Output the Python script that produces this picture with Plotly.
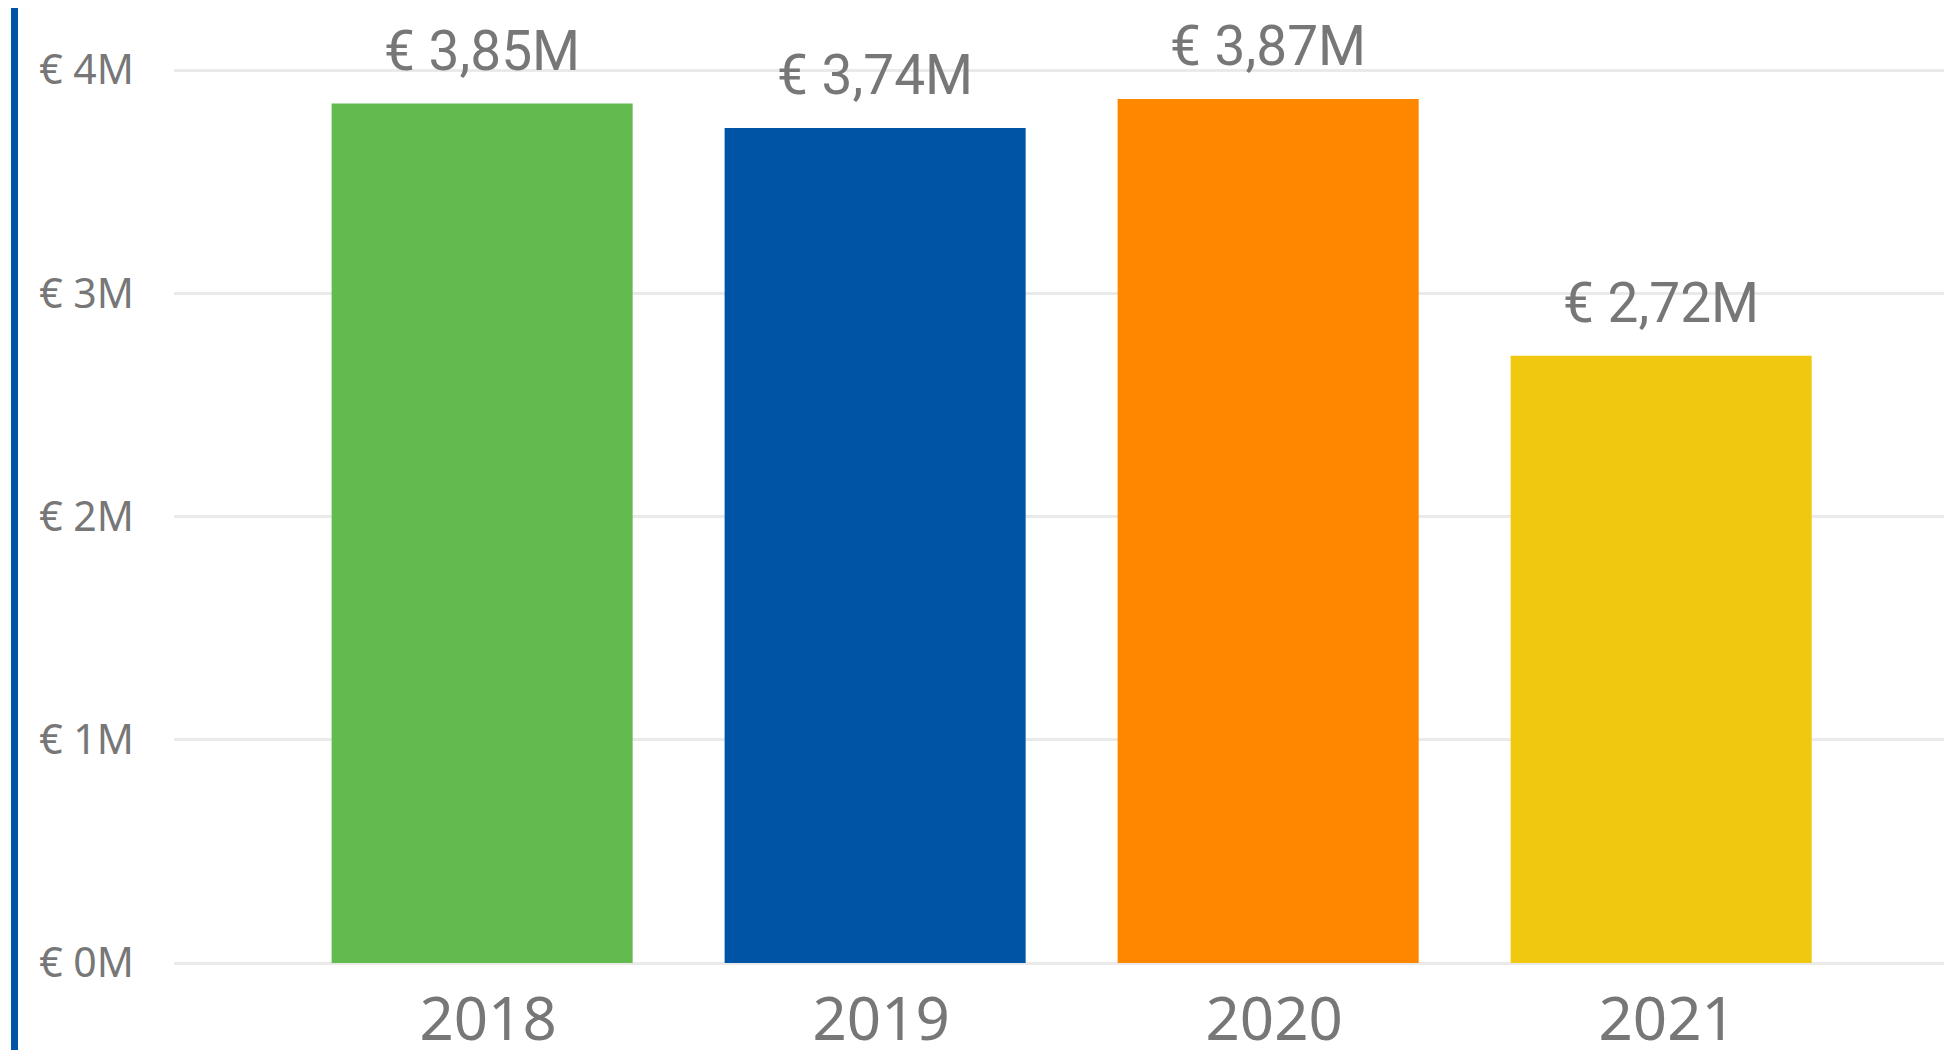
import plotly.graph_objects as go

years = ["2018", "2019", "2020", "2021"]
revenue_m = [3.85, 3.74, 3.87, 2.72]
bar_colours = ["#63BB4F", "#0054A5", "#FF8700", "#F0C810"]
y_ticks = [0, 1, 2, 3, 4]

GREY = "#777777"

fig = go.Figure(go.Bar(
  x=years,
  y=revenue_m,
  marker=dict(color=bar_colours, line=dict(width=0)),
  hoverinfo="skip",
))

# value labels above the bars, european decimal comma
for i, value in enumerate(revenue_m):
  fig.add_annotation(
    x=i, y=value,
    text=f"€ {value:.2f}M".replace(".", ","),
    showarrow=False,
    yanchor="bottom",
    yshift=19,
    font=dict(family="Roboto", size=55, color=GREY),
  )

# blue border line at the far left of the page
fig.add_shape(
  type="line", xref="paper", yref="paper",
  x0=-0.0897, x1=-0.0897, y0=-0.1, y1=1.0,
  line=dict(color="#0054A5", width=7),
)

# the page body has an 8px margin, so the figure is 8px smaller
fig.update_layout(
  width=1944,
  height=1042,
  margin=dict(l=166, r=0, t=0, b=87),
  plot_bgcolor="white",
  paper_bgcolor="white",
  bargap=0.234,
  showlegend=False,
  xaxis=dict(
    type="category",
    automargin=False,
    range=[-0.784, 3.74],
    showgrid=False,
    showline=False,
    ticks="",
    ticklabelstandoff=16,
    ticklabelshift=6,
    tickfont=dict(family="Noto Sans", size=60, color=GREY),
  ),
  yaxis=dict(
    automargin=False,
    range=[0, 4.278],
    tickvals=y_ticks,
    ticktext=[f"€ {v}M" for v in y_ticks],
    showgrid=True,
    gridcolor="#EAEAEA",
    gridwidth=3,
    zeroline=True,
    zerolinecolor="#EAEAEA",
    zerolinewidth=3,
    showline=False,
    ticks="",
    ticklabelstandoff=39,
    tickfont=dict(family="Noto Sans", size=41, color=GREY),
  ),
)

fig.write_html("out.html")
